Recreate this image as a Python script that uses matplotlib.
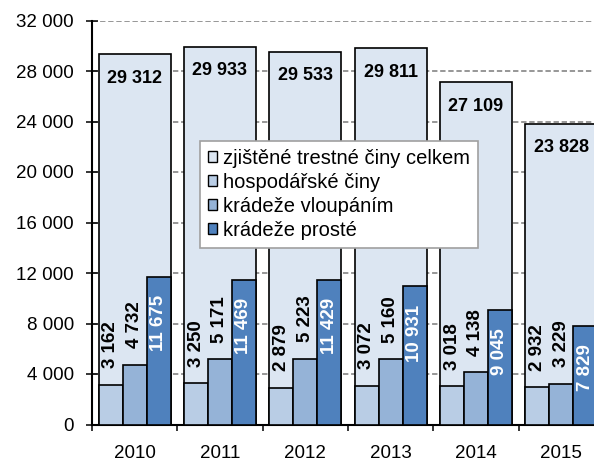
import matplotlib.pyplot as plt
import numpy as np

plt.rcParams['font.family'] = ['Liberation Sans', 'DejaVu Sans']

years = ['2010', '2011', '2012', '2013', '2014', '2015']
celkem = [29312, 29933, 29533, 29811, 27109, 23828]
hospodarske = [3162, 3250, 2879, 3072, 3018, 2932]
vloupanim = [4732, 5171, 5223, 5160, 4138, 3229]
proste = [11675, 11469, 11429, 10931, 9045, 7829]

series_names = ['zjištěné trestné činy celkem', 'hospodářské činy',
                'krádeže vloupáním', 'krádeže prosté']
colors = ['#dce6f2', '#b9cde5', '#95b3d7', '#4f81bd']


def fmt(v):
    return f'{v:,}'.replace(',', ' ')


fig = plt.figure(figsize=(5.94, 4.63), dpi=100)
ax = fig.add_axes([92 / 594, 38.5 / 463, 512 / 594, 404 / 463])

x = np.arange(len(years))
w = 0.28

# total crimes as wide background bars
ax.bar(x, celkem, width=0.84, color=colors[0], edgecolor='black',
       linewidth=1.2, zorder=2, label=series_names[0])
for k, vals in enumerate([hospodarske, vloupanim, proste]):
    ax.bar(x + (k - 1) * w, vals, width=w, color=colors[k + 1],
           edgecolor='black', linewidth=1.2, zorder=3,
           label=series_names[k + 1])

for xi, v in zip(x, celkem):
    ax.annotate(fmt(v), (xi, v), xytext=(0, -17.5), textcoords='offset points',
                ha='center', va='center', fontsize=13, fontweight='bold',
                zorder=5)

for k, vals in enumerate([hospodarske, vloupanim, proste]):
    for xi, v in zip(x, vals):
        if k < 2:
            ax.annotate(fmt(v), (xi + (k - 1) * w, v), xytext=(0, 12),
                        textcoords='offset points', ha='center', va='bottom',
                        rotation=90, fontsize=13.5, fontweight='bold', zorder=5)
        else:
            ax.annotate(fmt(v), (xi + (k - 1) * w, v), xytext=(0, -13),
                        textcoords='offset points', ha='center', va='top',
                        rotation=90, fontsize=13.5, fontweight='bold',
                        color='white', zorder=5)

ax.set_xlim(-0.5, len(years) - 0.5)
ax.set_ylim(0, 32000)
ax.set_yticks(np.arange(0, 32001, 4000))
ax.set_yticklabels([fmt(v) for v in range(0, 32001, 4000)], fontsize=13.5)
ax.yaxis.grid(True, color='#7a7a7a', linestyle=(0, (3.5, 1.8)), linewidth=1.1,
              zorder=0)
ax.set_axisbelow(True)

ax.set_xticks(x)
ax.set_xticklabels(years, fontsize=13.5)
ax.set_xticks(np.arange(-0.5, len(years)), minor=True)
ax.tick_params(axis='x', which='major', length=0, pad=15)
ax.tick_params(axis='x', which='minor', length=4, width=1.1, direction='out')
ax.tick_params(axis='y', length=8, width=1.1, direction='inout', pad=9)

for side in ['top', 'right']:
    ax.spines[side].set_visible(False)
ax.spines['left'].set_linewidth(1.5)
ax.spines['bottom'].set_linewidth(1.5)

leg = ax.legend(loc='upper left', bbox_to_anchor=(0.211, 0.702),
                borderaxespad=0, fontsize=14.5, fancybox=False,
                edgecolor='#a0a0a0', framealpha=1, handlelength=0.45,
                handleheight=0.45, handletextpad=0.3, labelspacing=0.25,
                borderpad=0.4)
leg.get_frame().set_linewidth(1.2)
leg.set_zorder(10)
for h in leg.legend_handles:
    h.set_linewidth(1.0)

fig.savefig('out.png', dpi=100)
